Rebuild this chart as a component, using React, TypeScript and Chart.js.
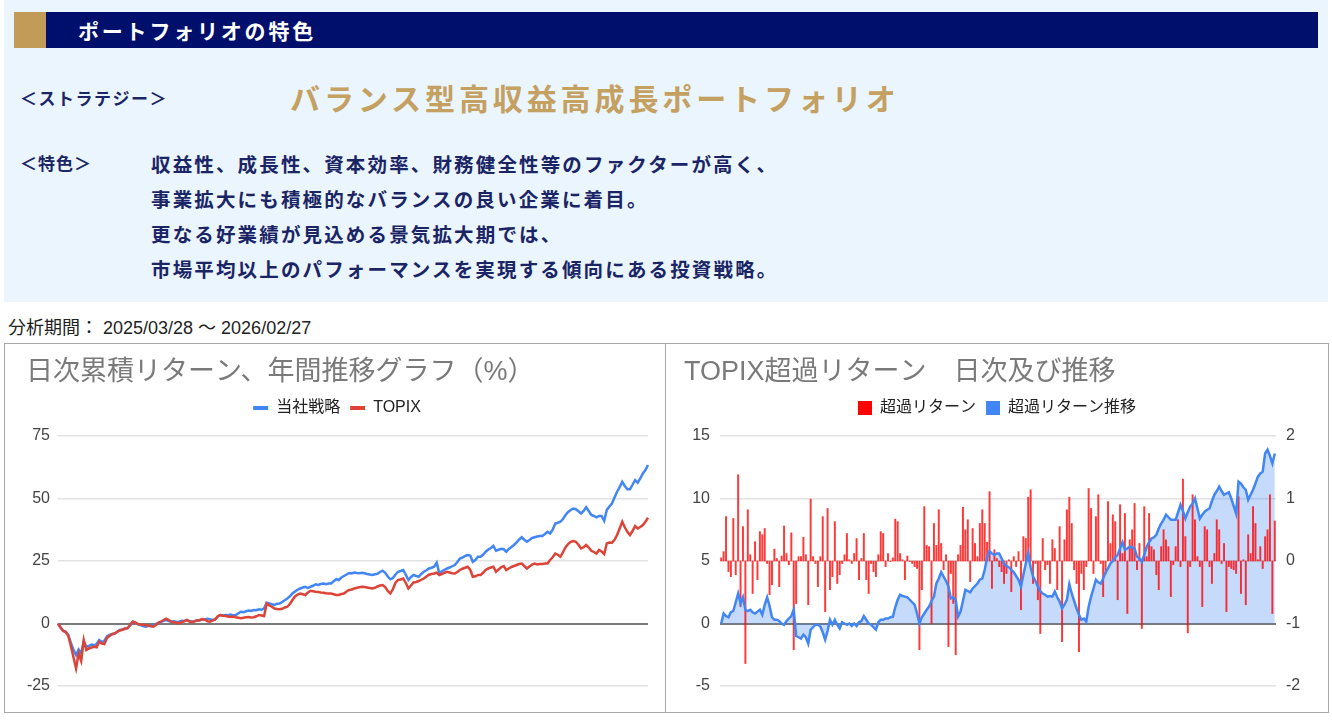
import React, { useEffect, useRef } from "react";
import { Chart, registerables } from "chart.js";

Chart.register(...registerables);

// ---------------- Data ----------------
const strategyCum = [
  0, -1.6, -2.9, -3.3, -4.6, -7.8, -10.5, -12.6, -10.4, -12.0,
  -7.2, -9.3, -9.0, -8.4, -8.7, -8.2, -6.6, -7.4, -6.9, -5.2,
  -4.6, -4.2, -4.0, -3.3, -2.6, -2.4, -2.0, -1.9, -0.8, 0.7,
  0.3, -0.2, -0.6, -1.0, -1.3, -0.9, -1.1, -0.6, -0.2, 0.3,
  0.6, 1.1, 1.4, 1.0, 0.7, 0.9, 0.6, 0.7, 1.1, 1.0,
  1.4, 1.0, 0.7, 0.9, 1.3, 1.2, 1.7, 1.5, 1.9, 1.7,
  1.4, 1.6, 2.8, 3.4, 3.2, 3.4, 3.3, 3.6, 3.2, 3.4,
  4.1, 4.7, 4.5, 4.9, 5.2, 5.0, 5.4, 5.3, 5.7, 5.5,
  6.1, 8.3, 8.0, 7.7, 7.4, 7.9, 8.0, 8.6, 9.3, 10.0,
  10.9, 12.0, 12.8, 13.5, 14.0, 14.4, 14.7, 14.2, 14.7, 15.1,
  15.7, 15.4, 15.8, 16.0, 15.7, 16.0, 16.0, 16.9, 17.7, 17.4,
  18.4, 19.0, 19.6, 20.2, 20.0, 20.4, 20.2, 20.1, 20.3, 20.1,
  19.8, 19.6, 19.4, 19.7, 19.9, 20.6, 21.1, 20.3, 18.8, 17.7,
  18.2, 19.6, 20.7, 21.0, 21.4, 19.5, 17.4, 18.6, 19.4, 19.0,
  18.7, 19.8, 20.7, 21.3, 22.0, 22.3, 22.7, 24.3, 20.0, 20.9,
  21.5, 22.0, 22.4, 22.9, 23.4, 24.6, 26.0, 26.4, 27.0, 27.4,
  27.2, 24.7, 25.4, 26.7, 26.7, 27.5, 28.7, 29.6, 30.2, 31.0,
  29.1, 29.5, 29.9, 29.7, 28.7, 29.8, 30.6, 31.4, 32.4, 33.6,
  34.5, 33.5, 32.7, 33.4, 34.2, 34.5, 34.8, 35.0, 35.0, 35.8,
  36.7, 36.0, 37.5, 40.0, 40.3, 40.7, 41.8, 43.4, 44.6, 45.4,
  46.0, 45.7, 44.9, 44.0, 45.0, 46.5, 45.0, 43.4, 43.0, 42.5,
  43.0, 43.0, 41.1, 45.4, 46.8, 48.0, 50.4, 52.7, 54.6, 56.7,
  55.0, 53.7, 53.7, 55.5, 57.4, 56.3, 58.0, 60.0, 61.4, 63.4,
];

const topixCum = [
  0, -1.6, -3.0, -3.4, -5.0, -9.0, -13.5, -18.0, -12.0, -15.0,
  -6.6, -10.6, -10.0, -9.6, -9.3, -9.5, -7.3, -8.0, -8.2, -5.8,
  -5.0, -4.3, -4.0, -3.3, -2.8, -2.5, -2.1, -1.8, -0.6, 0.7,
  0.4, -0.2, -0.4, -0.5, -0.6, -0.8, -1.0, -1.3, -0.6, 0.3,
  0.8, 1.4, 1.9, 1.4, 0.7, 0.5, 0.3, 0.0, 0.6, 0.9,
  1.4, 0.8, 0.5, 0.9, 1.2, 1.4, 1.8, 1.5, 0.9, 0.7,
  1.2, 1.6, 2.9, 3.4, 3.1, 3.0, 2.8, 2.6, 2.8, 2.5,
  2.3, 2.1, 2.3, 2.5, 2.6, 2.4, 2.5, 2.9, 3.4, 3.2,
  3.0, 8.0, 7.2, 6.7, 6.0, 5.8, 5.7, 5.9, 6.4, 6.7,
  7.8, 9.4, 10.8, 11.6, 12.0, 11.7, 11.4, 12.4, 13.1, 12.9,
  12.7, 12.6, 12.4, 12.3, 12.1, 12.0, 12.0, 11.7, 11.4, 11.4,
  11.8, 12.0, 12.8, 13.4, 13.6, 14.0, 14.3, 14.5, 14.7, 14.6,
  14.4, 14.2, 14.0, 14.3, 14.8, 15.2, 15.4, 14.6, 13.0, 12.0,
  13.8, 16.3, 17.4, 17.6, 18.0, 16.2, 14.0, 15.2, 16.4, 16.6,
  17.0, 17.5, 18.0, 18.8, 19.5, 19.8, 20.0, 20.3, 19.4, 19.8,
  20.3, 20.7, 20.4, 20.1, 20.0, 20.6, 21.4, 21.9, 22.3, 22.7,
  21.5, 18.7, 18.9, 19.4, 19.4, 20.3, 21.4, 22.0, 22.4, 22.7,
  20.7, 21.6, 22.5, 23.0, 21.4, 22.0, 22.6, 23.0, 23.4, 23.8,
  24.0, 23.0, 22.0, 22.8, 23.6, 24.0, 23.6, 23.8, 23.8, 24.0,
  24.0, 25.4, 26.5, 28.0, 27.5, 26.7, 28.5, 30.5, 31.8, 32.7,
  33.0, 32.7, 31.5, 30.0, 30.5, 31.4, 30.4, 29.1, 28.6, 28.0,
  29.4, 28.8, 27.8, 32.0, 32.4, 32.3, 33.5, 35.4, 38.0, 40.7,
  38.5, 36.7, 35.4, 37.0, 39.0, 38.0, 38.6, 39.4, 40.7, 42.3,
];

const excessDaily = [
  0.05, 0.15, 0.71, -0.17, -0.25, 0.68, -0.22, 1.38, -0.73, 0.55,
  -1.64, 0.82, 0.1, -0.52, 0.31, -0.3, 0.47, 0.42, 0.52, -0.04,
  -0.54, -0.38, 0.19, 0.04, -0.41, 0.08, 0.56, 0.12, -0.06, 0.45,
  -1.42, -0.68, 0.07, 0.07, 0.38, 0.1, -0.7, 0.99, 0.07, -0.04,
  -0.41, 0.07, 0.71, -0.81, 0.84, -0.46, -0.25, 0.63, -0.36, -0.22,
  -0.04, 0.1, 0.44, 0.02, -0.04, 0.12, 0.36, -0.3, 0.04, 0.44,
  -0.3, -0.52, -0.04, -0.17, -0.25, 0.1, 0.47, 0.44, -0.09, 0.12,
  -0.01, 0.05, 0.67, 0.63, 0.12, 0.02, -0.3, 0.08, -0.01, -0.04,
  -0.09, -0.12, -1.42, -0.46, 0.87, 0.25, 0.23, -1.0, 0.6, 0.25,
  0.82, 0.28, -0.14, 0.1, -1.37, -0.2, -0.68, -1.5, 0.1, 0.25,
  0.86, 0.5, 0.66, -0.33, 0.52, 0.28, 0.07, 0.6, 0.82, 0.6,
  0.3, 1.11, -0.44, 0.18, 0.04, -0.09, -0.17, -0.36, -0.2, 0.02,
  -0.49, 0.07, -0.09, 0.15, -0.78, 0.39, 0.36, 1.02, 1.14, -0.36,
  -0.04, -0.62, -1.16, 0.36, -0.14, -0.06, -0.36, 0.34, 0.2, -0.46,
  0.55, -1.29, 0.34, 0.82, 1.02, 0.6, -0.14, -0.36, -1.45, -0.2,
  -0.46, -0.09, 1.16, 0.84, -0.2, 0.71, 1.06, -0.04, -0.57, -0.2,
  0.95, 0.28, 0.74, 0.63, -0.62, 0.9, 0.12, 0.76, -0.84, 0.34,
  0.5, 0.92, -0.14, 0.28, -1.08, 0.87, 0.07, 0.76, 0.23, 0.18,
  -0.22, -0.46, 0.23, 0.5, 0.34, 0.23, -0.57, -0.06, 0.23, 0.66,
  -0.09, 1.31, 0.39, -1.15, -0.09, 1.06, 0.66, 0.07, -0.09, -0.73,
  0.55, 0.5, -0.09, -0.36, 0.12, 0.66, 0.5, -0.04, 0.28, -0.81,
  -0.09, -0.12, -0.14, -0.2, 1.03, -0.52, 0.02, -0.7, 0.42, 0.12,
  0.87, 0.6, 0.02, 0.23, -0.12, 0.39, 0.5, 1.06, -0.84, 0.64,
];

const excessCum = [
  0, 0.8, 0.6, 0.5, 0.9, 1.0, 1.7, 2.4, 1.6, 2.1,
  1.1, 1.0, 1.1, 0.9, 0.8, 0.95, 1.1, 0.7, 1.5, 2.1,
  1.4, 0.5, 0.3, 0.3, 0.2, 0.0, -0.1, 0.2, 0.4, 0.6,
  1.1, -1.0, -1.1, -1.2, -0.9, -1.1, -1.6, -0.5, -0.3, -0.1,
  -0.1, -0.25, -0.7, -1.3, -0.6, 0.3, -0.1, 0.3, -0.1, -0.4,
  0.1, 0.0, -0.1, 0.0, -0.2, 0.0, -0.2, 0.1, 0.2, 0.6,
  0.3, 0.0, -0.1, -0.3, -0.5, 0.1, 0.3, 0.3, 0.4, 0.4,
  0.5, 0.55, 1.3, 1.9, 2.3, 2.2, 2.15, 2.1, 1.9, 1.7,
  1.5, 0.8, 0.0, 0.5, 0.8, 1.1, 1.35, 1.8, 2.15, 3.2,
  3.6, 4.1, 3.75, 3.4, 2.95, 2.0, 2.1, 1.9, 0.55, 0.95,
  1.8, 2.7, 2.6, 2.5, 2.8, 3.0, 3.2, 3.5, 3.6, 4.3,
  5.3, 5.8, 5.6, 5.5, 5.6, 5.6, 5.2, 4.8, 4.6, 4.5,
  4.3, 4.1, 3.8, 3.5, 2.95, 3.9, 4.8, 5.6, 4.5, 3.75,
  3.4, 2.95, 2.6, 2.4, 2.3, 2.15, 2.2, 2.15, 2.55, 2.1,
  1.75, 1.2, 1.5, 1.9, 3.15, 2.4, 1.8, 1.2, 0.7, 0.3,
  0.4, 0.15, 1.35, 2.15, 2.8, 3.5, 3.3, 3.2, 3.6, 4.1,
  4.4, 4.8, 5.0, 5.3, 5.5, 6.0, 6.5, 5.9, 6.0, 6.15,
  6.1, 6.0, 5.35, 5.2, 4.95, 5.5, 6.15, 6.5, 6.8, 6.9,
  7.1, 7.6, 8.0, 8.3, 8.7, 8.5, 8.3, 8.3, 8.3, 8.9,
  9.5, 9.0, 8.4, 8.9, 9.35, 9.6, 10.0, 9.2, 8.4, 8.7,
  8.95, 9.1, 9.2, 9.8, 10.3, 10.6, 10.95, 10.6, 10.3, 10.4,
  10.5, 10.0, 9.4, 8.8, 11.35, 11.2, 10.9, 10.7, 9.9, 10.3,
  10.7, 11.2, 11.75, 12.0, 12.15, 13.6, 13.9, 13.4, 12.8, 13.6,
];

const periodStart = "2025/03/28";
const periodEnd = "2026/02/27";

const leftTitle = "日次累積リターン、年間推移グラフ（%）";
const rightTitle = "TOPIX超過リターン　日次及び推移";
const leftSeriesNames = ["当社戦略", "TOPIX"];
const rightSeriesNames = ["超過リターン", "超過リターン推移"];

const bodyLines = [
  "収益性、成長性、資本効率、財務健全性等のファクターが高く、",
  "事業拡大にも積極的なバランスの良い企業に着目。",
  "更なる好業績が見込める景気拡大期では、",
  "市場平均以上のパフォーマンスを実現する傾向にある投資戦略。",
];

// business-day labels from the start of the period (not displayed)
function makeDateLabels(n: number): string[] {
  const out: string[] = [];
  const d = new Date(2025, 2, 28);
  while (out.length < n) {
    const wd = d.getDay();
    if (wd !== 0 && wd !== 6) {
      const mm = String(d.getMonth() + 1).padStart(2, "0");
      const dd = String(d.getDate()).padStart(2, "0");
      out.push(`${d.getFullYear()}/${mm}/${dd}`);
    }
    d.setDate(d.getDate() + 1);
  }
  return out;
}
const dateLabels = makeDateLabels(strategyCum.length);

// ---------------- Styles ----------------
const BLUE = "#4285f4";
const RED = "#db4437";
const BAR_RED = "rgba(255, 0, 0, 0.78)";
const AREA_FILL = "rgba(66, 133, 244, 0.30)";
const CHART_FONT = '"Liberation Sans", Arial, "Noto Sans CJK JP", sans-serif';
const JP_FONT = '"Noto Sans CJK JP", "Noto Sans", sans-serif';
const NAVY_TEXT = "#1b2566";

function legendLabelMaker(colors: string[]) {
  return (chart: any) => {
    const items = (Chart.defaults.plugins.legend.labels as any).generateLabels(chart);
    items.forEach((it: any) => {
      it.fillStyle = colors[it.datasetIndex];
      it.strokeStyle = colors[it.datasetIndex];
      it.lineWidth = 0;
    });
    return items;
  };
}

const gridColor = (ctx: any) => (ctx.tick && ctx.tick.value === 0 ? "#7a7a7a" : "#e2e2e2");
const gridWidth = (ctx: any) => (ctx.tick && ctx.tick.value === 0 ? 2 : 1.5);

const commonTop = (title: string) => ({
  title: {
    display: true,
    text: title,
    align: "start" as const,
    color: "#7a7a7a",
    font: { family: CHART_FONT, size: 27, weight: "normal" as const, lineHeight: 1.2 },
    padding: { top: 12, bottom: 1.6 },
  },
  subtitle: {
    display: true,
    text: "",
    position: "top" as const,
    weight: 500,
    padding: 0,
    font: { size: 10, lineHeight: 1 },
  },
  tooltip: { enabled: false },
});

const tickFont = { family: CHART_FONT, size: 16 };

function LeftChart() {
  const ref = useRef<HTMLCanvasElement>(null);
  useEffect(() => {
    const chart = new Chart(ref.current as HTMLCanvasElement, {
      type: "line",
      data: {
        labels: dateLabels,
        datasets: [
          {
            label: leftSeriesNames[0],
            data: strategyCum,
            borderColor: BLUE,
            backgroundColor: BLUE,
            borderWidth: 2.5,
            pointRadius: 0,
            tension: 0,
            order: 1,
          },
          {
            label: leftSeriesNames[1],
            data: topixCum,
            borderColor: RED,
            backgroundColor: RED,
            borderWidth: 2.5,
            pointRadius: 0,
            tension: 0,
            order: 0,
          },
        ],
      },
      options: {
        animation: false,
        responsive: false,
        layout: { padding: { left: 21, right: 17, top: 0, bottom: 26 } },
        plugins: {
          ...commonTop(leftTitle),
          legend: {
            position: "top",
            labels: {
              boxWidth: 15,
              boxHeight: 4,
              padding: 10,
              color: "#222222",
              font: { family: CHART_FONT, size: 16 },
              sort: (a: any, b: any) => a.datasetIndex - b.datasetIndex,
              generateLabels: legendLabelMaker([BLUE, RED]),
            },
          },
        } as any,
        scales: {
          x: { display: false },
          y: {
            min: -25,
            max: 75,
            ticks: { stepSize: 25, padding: 8, color: "#444444", font: tickFont },
            grid: { drawTicks: false, color: gridColor, lineWidth: gridWidth },
            border: { display: false },
            afterFit: (s: any) => {
              s.width = 32;
            },
          },
        },
      },
    });
    return () => chart.destroy();
  }, []);
  return (
    <canvas
      ref={ref}
      width={660}
      height={368}
      style={{ position: "absolute", left: 5, top: 344, width: 660, height: 368 }}
    />
  );
}

function RightChart() {
  const ref = useRef<HTMLCanvasElement>(null);
  useEffect(() => {
    const chart = new Chart(ref.current as HTMLCanvasElement, {
      type: "bar",
      data: {
        labels: dateLabels,
        datasets: [
          {
            type: "bar",
            label: rightSeriesNames[0],
            data: excessDaily,
            yAxisID: "y1",
            backgroundColor: BAR_RED,
            barThickness: 1.3,
            order: 1,
          } as any,
          {
            type: "line",
            label: rightSeriesNames[1],
            data: excessCum,
            yAxisID: "y",
            borderColor: BLUE,
            backgroundColor: AREA_FILL,
            borderWidth: 2.5,
            pointRadius: 0,
            tension: 0,
            fill: "origin",
            order: 0,
          } as any,
        ],
      },
      options: {
        animation: false,
        responsive: false,
        layout: { padding: { left: 18, right: 17, top: 0, bottom: 26 } },
        plugins: {
          ...commonTop(rightTitle),
          filler: { drawTime: "beforeDatasetsDraw" },
          legend: {
            position: "top",
            labels: {
              boxWidth: 14,
              boxHeight: 14,
              padding: 10,
              color: "#222222",
              font: { family: CHART_FONT, size: 16 },
              sort: (a: any, b: any) => a.datasetIndex - b.datasetIndex,
              generateLabels: legendLabelMaker(["#ff0000", BLUE]),
            },
          },
        } as any,
        scales: {
          x: { display: false, offset: true },
          y: {
            position: "left",
            min: -5,
            max: 15,
            ticks: { stepSize: 5, padding: 10, color: "#444444", font: tickFont },
            grid: { drawTicks: false, color: gridColor, lineWidth: gridWidth },
            border: { display: false },
            afterFit: (s: any) => {
              s.width = 36;
            },
          },
          y1: {
            position: "right",
            min: -2,
            max: 2,
            ticks: { stepSize: 1, padding: 10, color: "#444444", font: tickFont },
            grid: { display: false, drawTicks: false },
            border: { display: false },
            afterFit: (s: any) => {
              s.width = 34;
            },
          },
        },
      },
    });
    return () => chart.destroy();
  }, []);
  return (
    <canvas
      ref={ref}
      width={661}
      height={368}
      style={{ position: "absolute", left: 666, top: 344, width: 661, height: 368 }}
    />
  );
}

function TextAt(props: {
  left: number;
  centerY: number;
  size: number;
  color: string;
  bold?: boolean;
  spacing?: number;
  family?: string;
  children: React.ReactNode;
}) {
  const h = Math.round(props.size * 1.6);
  return (
    <div
      style={{
        position: "absolute",
        left: props.left,
        top: props.centerY - h / 2,
        height: h,
        lineHeight: `${h}px`,
        fontSize: props.size,
        fontFamily: props.family || JP_FONT,
        fontWeight: props.bold ? 700 : 400,
        letterSpacing: props.spacing || 0,
        color: props.color,
        whiteSpace: "nowrap",
      }}
    >
      {props.children}
    </div>
  );
}

export default function App() {
  return (
    <div
      style={{
        position: "absolute",
        left: 0,
        top: 0,
        width: 1332,
        height: 722,
        overflow: "hidden",
        background: "#ffffff",
      }}
    >
      {/* top description panel */}
      <div style={{ position: "absolute", left: 4, top: 0, width: 1324, height: 302, background: "#eaf5fd" }} />
      <div style={{ position: "absolute", left: 14, top: 12, width: 32, height: 36, background: "#c19b57" }} />
      <div style={{ position: "absolute", left: 46, top: 12, width: 1272, height: 36, background: "#000f6c" }} />
      <TextAt left={78} centerY={30} size={21} color="#ffffff" bold spacing={2.8}>
        ポートフォリオの特色
      </TextAt>
      <TextAt left={20} centerY={97} size={17} color={NAVY_TEXT} bold spacing={1.5}>
        ＜ストラテジー＞
      </TextAt>
      <TextAt left={290} centerY={97} size={30} color="#c4a061" bold spacing={3.9}>
        バランス型高収益高成長ポートフォリオ
      </TextAt>
      <TextAt left={20} centerY={162} size={17} color={NAVY_TEXT} bold spacing={1}>
        ＜特色＞
      </TextAt>
      {bodyLines.map((t, i) => (
        <TextAt key={i} left={151} centerY={163 + i * 35} size={19.5} color={NAVY_TEXT} bold spacing={2.15}>
          {t}
        </TextAt>
      ))}

      {/* period */}
      <TextAt left={8} centerY={328} size={18} color="#222222" family={CHART_FONT}>
        {`分析期間： ${periodStart} ～ ${periodEnd}`}
      </TextAt>

      {/* chart frames */}
      <div
        style={{
          position: "absolute",
          left: 4,
          top: 343,
          width: 662,
          height: 370,
          boxSizing: "border-box",
          border: "1px solid #a8a8a8",
        }}
      />
      <div
        style={{
          position: "absolute",
          left: 665,
          top: 343,
          width: 664,
          height: 370,
          boxSizing: "border-box",
          border: "1px solid #a8a8a8",
        }}
      />
      <LeftChart />
      <RightChart />
    </div>
  );
}
